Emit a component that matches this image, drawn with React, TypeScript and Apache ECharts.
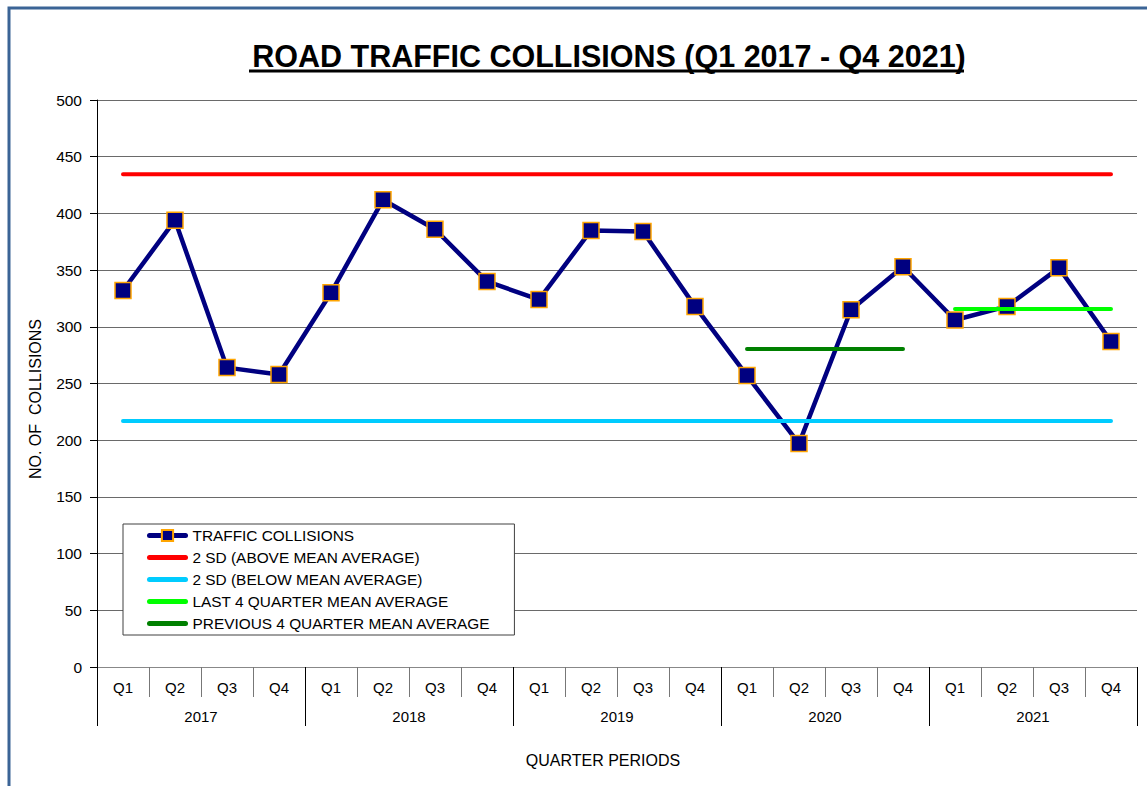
import React, { useEffect, useRef } from "react";
import * as echarts from "echarts";

const quarters = ["Q1","Q2","Q3","Q4","Q1","Q2","Q3","Q4","Q1","Q2","Q3","Q4","Q1","Q2","Q3","Q4","Q1","Q2","Q3","Q4"];
const years = ["2017", "2018", "2019", "2020", "2021"];
const collisions = [332, 394, 264, 258, 330, 412, 386, 340, 324, 385, 384, 318, 257, 197, 315, 353, 306, 318, 352, 287];
const sdAbove = 434.5;
const sdBelow = 217;
const last4Mean = 315.7;
const prev4Mean = 280.5;
const prev4Range = [12, 15];
const last4Range = [16, 19];
const seriesNames = [
  "TRAFFIC COLLISIONS",
  "2 SD (ABOVE MEAN AVERAGE)",
  "2 SD (BELOW MEAN AVERAGE)",
  "LAST 4 QUARTER MEAN AVERAGE",
  "PREVIOUS 4 QUARTER MEAN AVERAGE",
];

const FONT = "'Liberation Sans', Arial, sans-serif";

export default function App() {
  const ref = useRef<HTMLDivElement>(null);
  useEffect(() => {
    if (!ref.current) return;
    const chart = echarts.init(ref.current, null, { renderer: "svg" });
    const rangeSeries = (v: number, r: number[]) => quarters.map((_, i) => (i >= r[0] && i <= r[1] ? v : null));
    const lineColors = ["#000080", "#FF0000", "#00CCFF", "#00FF00", "#008000"];
    chart.setOption({
      animation: false,
      textStyle: { fontFamily: FONT },
      grid: { left: 97, right: 10, top: 100, bottom: 119 },
      title: {
        text: "ROAD TRAFFIC COLLISIONS (Q1 2017 - Q4 2021)",
        left: 604,
        textAlign: "center",
        top: 35,
        textStyle: { fontFamily: FONT, fontSize: 30.5, fontWeight: "bold", color: "#000" },
      },
      graphic: [
        { type: "rect", shape: { x: 9, y: 8, width: 1300, height: 1000 }, style: { fill: "none", stroke: "#3B6496", lineWidth: 3 }, silent: true },
        { type: "line", shape: { x1: 249, y1: 71, x2: 964, y2: 71 }, style: { stroke: "#000", lineWidth: 3 } },
        { type: "text", x: 603, y: 760, style: { text: "QUARTER PERIODS", fontFamily: FONT, fontSize: 16, fill: "#000", textAlign: "center", textVerticalAlign: "middle" } },
        { type: "text", x: 35, y: 399, rotation: Math.PI / 2, style: { text: "NO. OF  COLLISIONS", fontFamily: FONT, fontSize: 16, fill: "#000", textAlign: "center", textVerticalAlign: "middle" } },
      ],
      legend: {
        orient: "vertical",
        left: 123,
        top: 524,
        itemWidth: 36,
        itemHeight: 14,
        itemGap: 7,
        padding: [4, 24, 4, 24],
        backgroundColor: "#fff",
        borderColor: "#404040",
        borderWidth: 1,
        borderRadius: 0,
        textStyle: { fontFamily: FONT, fontSize: 15.4, color: "#000", padding: [0, 0, 0, 2] },
        data: seriesNames.map((n, i) =>
          i === 0
            ? { name: n, lineStyle: { width: 5, color: lineColors[0], cap: "round" } }
            : { name: n, itemStyle: { opacity: 0 }, lineStyle: { width: 5, color: lineColors[i], cap: "round" } }
        ),
      },
      xAxis: [
        {
          type: "category",
          data: quarters,
          position: "bottom",
          axisLine: { show: true, lineStyle: { color: "#888", width: 1 } },
          axisTick: { show: true, interval: 0, length: 30, lineStyle: { color: "#777" } },
          axisLabel: { interval: 0, margin: 13, fontSize: 15, color: "#000", fontFamily: FONT },
          splitLine: { show: false },
        },
        {
          type: "category",
          data: years,
          position: "bottom",
          axisLine: { show: false },
          axisTick: { show: true, interval: 0, length: 59, lineStyle: { color: "#000" } },
          axisLabel: { interval: 0, margin: 42, fontSize: 15, color: "#000", fontFamily: FONT },
          splitLine: { show: false },
        },
      ],
      yAxis: {
        type: "value",
        min: 0,
        max: 500,
        interval: 50,
        axisLine: { show: true, lineStyle: { color: "#000" } },
        axisTick: { show: true, length: 7, lineStyle: { color: "#000" } },
        axisLabel: { margin: 15, fontSize: 15.5, color: "#000", fontFamily: FONT },
        splitLine: { show: true, lineStyle: { color: "#6a6a6a", width: 1 } },
      },
      series: [
        {
          name: seriesNames[0],
          type: "line",
          data: collisions,
          symbol: "rect",
          symbolSize: 16,
          lineStyle: { color: lineColors[0], width: 4.5 },
          itemStyle: { color: lineColors[0], borderColor: "#FFA500", borderWidth: 1.5 },
          z: 2,
        },
        {
          name: seriesNames[1],
          type: "line",
          data: quarters.map(() => sdAbove),
          symbol: "none",
          lineStyle: { color: lineColors[1], width: 4, cap: "round" },
          itemStyle: { color: lineColors[1] },
          z: 3,
        },
        {
          name: seriesNames[2],
          type: "line",
          data: quarters.map(() => sdBelow),
          symbol: "none",
          lineStyle: { color: lineColors[2], width: 4, cap: "round" },
          itemStyle: { color: lineColors[2] },
          z: 3,
        },
        {
          name: seriesNames[3],
          type: "line",
          data: rangeSeries(last4Mean, last4Range),
          symbol: "none",
          lineStyle: { color: lineColors[3], width: 4, cap: "round" },
          itemStyle: { color: lineColors[3] },
          z: 3,
        },
        {
          name: seriesNames[4],
          type: "line",
          data: rangeSeries(prev4Mean, prev4Range),
          symbol: "none",
          lineStyle: { color: lineColors[4], width: 4, cap: "round" },
          itemStyle: { color: lineColors[4] },
          z: 3,
        },
      ],
    });
    return () => chart.dispose();
  }, []);
  return <div ref={ref} style={{ position: "fixed", left: 0, top: 0, width: 1147, height: 786, background: "#fff" }} />;
}
